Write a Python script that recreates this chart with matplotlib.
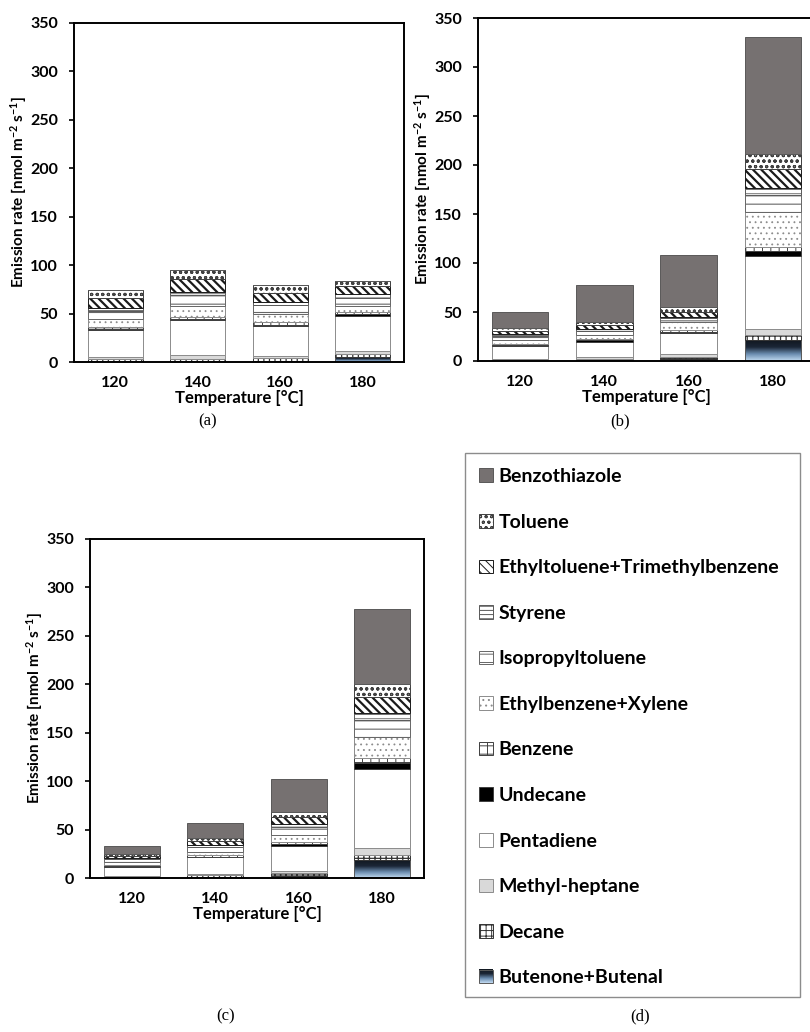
import numpy as np
import matplotlib
matplotlib.use('Agg')
import matplotlib.pyplot as plt
from matplotlib.colors import LinearSegmentedColormap
from matplotlib.patches import Patch, Rectangle
from matplotlib.legend_handler import HandlerBase
from matplotlib.image import BboxImage
from matplotlib.transforms import Bbox, TransformedBbox

plt.rcParams['font.family'] = ['Lato', 'DejaVu Sans']
plt.rcParams['font.weight'] = 'bold'
plt.rcParams['hatch.linewidth'] = 0.7
plt.rcParams['mathtext.fontset'] = 'custom'
plt.rcParams['mathtext.rm'] = 'Lato:bold'
plt.rcParams['mathtext.bf'] = 'Lato:bold'
plt.rcParams['mathtext.it'] = 'Lato:bold'

temps = ['120', '140', '160', '180']

# one row per panel: (a), (b), (c); one value per temperature
butenone = [[1.0, 1.5, 1.5, 5.0], [0.5, 1.0, 2.5, 21.0], [0.5, 1.0, 2.4, 18.3]]
decane = [[2.5, 2.0, 2.5, 3.0], [1.0, 1.5, 2.0, 6.0], [0.5, 2.0, 2.8, 5.8]]
methylheptane = [[2.0, 3.5, 2.5, 3.0], [1.0, 1.5, 3.0, 6.0], [0.7, 0.8, 2.0, 6.9]]
pentadiene = [[27.5, 36.0, 30.5, 36.5], [13.0, 15.0, 21.0, 74.0], [9.5, 17.5, 26.0, 81.4]]
undecane = [[1.5, 1.5, 1.5, 2.5], [0.8, 2.0, 1.5, 5.0], [1.2, 0.5, 2.4, 5.9]]
benzene = [[1.5, 2.0, 3.0, 2.0], [1.5, 1.5, 1.5, 4.5], [1.5, 1.5, 1.7, 5.1]]
ethylbenzene = [[8.5, 11.0, 8.5, 6.0], [4.0, 4.0, 8.0, 36.0], [2.5, 4.0, 7.6, 21.8]]
isopropyltoluene = [[8.5, 11.5, 8.5, 8.5], [4.0, 4.5, 4.0, 17.0], [3.0, 5.0, 8.0, 17.9]]
styrene = [[2.5, 3.5, 3.5, 3.5], [1.5, 1.5, 1.5, 7.0], [1.0, 1.5, 2.4, 6.9]]
ethyltoluene = [[11.0, 13.0, 9.0, 8.0], [3.5, 4.0, 5.0, 19.0], [2.5, 4.5, 7.9, 17.2]]
toluene = [[7.5, 9.5, 8.0, 6.0], [3.0, 3.0, 5.0, 16.0], [2.0, 3.5, 5.2, 13.1]]
benzothiazole = [[0.0, 0.0, 0.0, 0.0], [16.0, 38.5, 53.0, 119.5], [7.8, 14.5, 33.4, 77.6]]

names = ['Butenone+Butenal', 'Decane', 'Methyl-heptane', 'Pentadiene', 'Undecane',
         'Benzene', 'Ethylbenzene+Xylene', 'Isopropyltoluene', 'Styrene',
         'Ethyltoluene+Trimethylbenzene', 'Toluene', 'Benzothiazole']
series = [butenone, decane, methylheptane, pentadiene, undecane, benzene,
          ethylbenzene, isopropyltoluene, styrene, ethyltoluene, toluene, benzothiazole]
# face, hatch, edge, hatch width
styles = [('none', None, '#595959', 0.7),
          ('white', '+++', '#333333', 0.9),
          ('#d9d9d9', None, '#8c8c8c', 0.7),
          ('white', None, '#8c8c8c', 0.7),
          ('black', None, '#404040', 0.7),
          ('white', '++', '#404040', 0.7),
          ('white', '...', '#8c8c8c', 0.6),
          ('white', '--', '#666666', 0.8),
          ('white', '----', '#595959', 0.6),
          ('white', '\\\\\\\\', '#1a1a1a', 1.6),
          ('white', 'ooo', '#404040', 0.8),
          ('#767171', None, '#595959', 0.7)]

blue = LinearSegmentedColormap.from_list('blue', ['#c3dcf2', '#6b8db0', '#1b2636', '#111820'])
grad = np.linspace(0, 1, 256).reshape(-1, 1)

fig = plt.figure(figsize=(8.1, 10.32), dpi=100)
ylab = r'Emission rate [nmol m$^{\mathbf{-2}}$ s$^{\mathbf{-1}}$]'


def draw_panel(ax, row):
    x = np.arange(len(temps))
    bottom = np.zeros(len(temps))
    for name, vals, (fc, hatch, ec, hw) in zip(names, series, styles):
        v = np.array(vals[row])
        with plt.rc_context({'hatch.linewidth': hw}):
            bars = ax.bar(x, v, 0.67, bottom=bottom, color=fc, edgecolor=ec,
                          hatch=hatch, linewidth=0.7, zorder=2)
        if name == 'Butenone+Butenal':
            for b in bars:
                if b.get_height() <= 0:
                    continue
                im = ax.imshow(grad, cmap=blue, aspect='auto', origin='lower', zorder=1.5,
                               extent=[b.get_x(), b.get_x() + b.get_width(),
                                       b.get_y(), b.get_y() + b.get_height()])
                im.set_clip_path(b)
        bottom += v
    ax.set_xlim(-0.5, 3.5)
    ax.set_ylim(0, 350)
    ax.set_yticks(range(0, 351, 50))
    ax.set_xticks(x)
    ax.set_xticklabels(temps)
    ax.tick_params(axis='x', length=0, pad=10, labelsize=11.5)
    ax.tick_params(axis='y', direction='out', length=3.5, width=1.2, labelsize=11.5, pad=8)
    for t in ax.get_xticklabels() + ax.get_yticklabels():
        t.set_fontweight('bold')
    for s in ax.spines.values():
        s.set_linewidth(1.4)
    ax.set_ylabel(ylab, fontsize=11, fontweight='bold', labelpad=1)
    ax.set_xlabel('Temperature [°C]', fontsize=12, fontweight='bold', labelpad=0)


class HandlerGradient(HandlerBase):
    def create_artists(self, legend, orig_handle, xdescent, ydescent, width, height,
                       fontsize, trans):
        bb = TransformedBbox(Bbox.from_bounds(-xdescent, -ydescent, width, height), trans)
        img = BboxImage(bb, cmap=blue, origin='lower', interpolation='bilinear')
        img.set_data(grad)
        rect = Rectangle((-xdescent, -ydescent), width, height, facecolor='none',
                         edgecolor='#595959', linewidth=0.7, transform=trans)
        return [img, rect]


ax_a = fig.add_axes([74 / 810, 1 - 362 / 1032, 330 / 810, 339 / 1032])
draw_panel(ax_a, 0)

ax_b = fig.add_axes([478 / 810, 1 - 361 / 1032, 337 / 810, 343 / 1032])
draw_panel(ax_b, 1)

ax_c = fig.add_axes([90 / 810, 1 - 878 / 1032, 334 / 810, 339 / 1032])
draw_panel(ax_c, 2)

# legend panel (d)
handles = []
hmap = {}
for name, (fc, hatch, ec, hw) in zip(names, styles):
    with plt.rc_context({'hatch.linewidth': min(hw, 0.8)}):
        h = Patch(facecolor=fc, edgecolor=ec, hatch=hatch, linewidth=0.7)
    if name == 'Butenone+Butenal':
        hmap[h] = HandlerGradient()
    handles.append(h)
fig.add_artist(Rectangle((465 / 810, 1 - 997 / 1032), 335 / 810, 544 / 1032,
                         transform=fig.transFigure, facecolor='none',
                         edgecolor='#8c8c8c', linewidth=1.0))
fig.legend(handles[::-1], names[::-1], loc='upper left', handler_map=hmap,
           bbox_to_anchor=(479 / 810, 1 - 468 / 1032), frameon=False,
           fontsize=14, labelspacing=1.47, handlelength=0.7, handleheight=0.7,
           handletextpad=0.3, borderpad=0, borderaxespad=0)

for lab, xp, yp in [('(a)', 208, 421), ('(b)', 620, 421), ('(c)', 226, 1016), ('(d)', 640, 1016)]:
    fig.text(xp / 810, 1 - yp / 1032, lab, family='Liberation Serif', weight='normal',
             fontsize=12, ha='center', va='center')

fig.savefig('out.png', dpi=100)
